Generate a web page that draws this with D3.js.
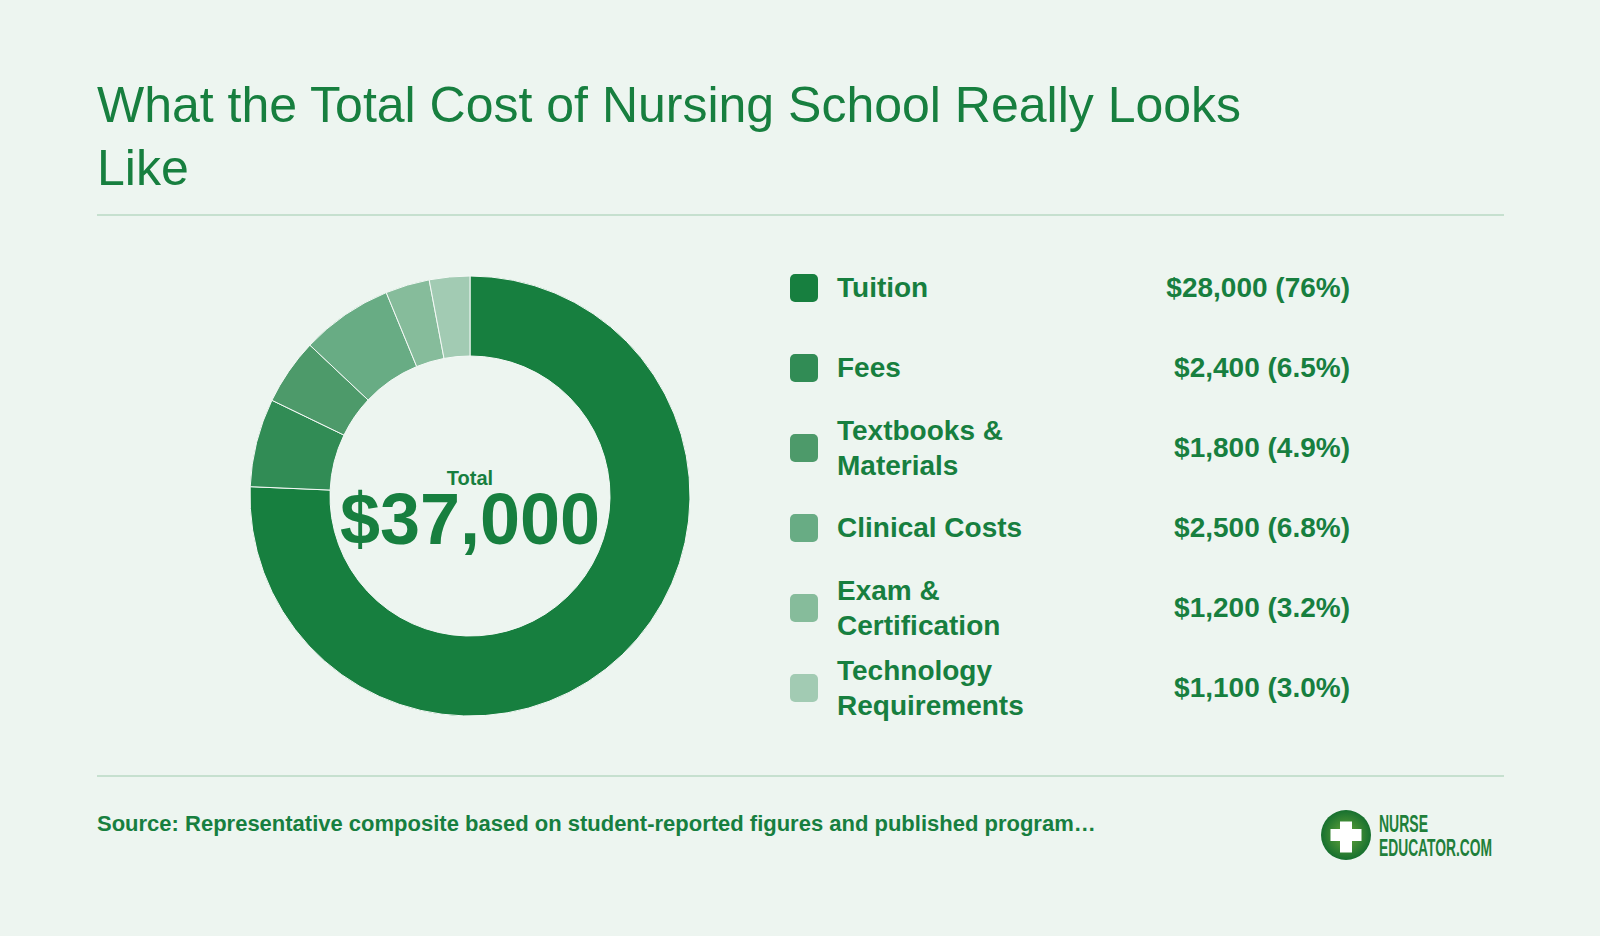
<!DOCTYPE html>
<html lang="en">
  <head>
    <meta charset="utf-8">
    <title>Total Cost of Nursing School</title>
    <script src="https://cdn.jsdelivr.net/npm/d3@7"></script>
    <style>
      html, body { margin: 0; padding: 0; background: #edf5f0; }
      svg { display: block; font-family: "Liberation Sans", Arial, Helvetica, sans-serif; }
    </style>
  </head>

  <body>
    <script>
      // data
      var categories = ['Tuition', 'Fees', 'Textbooks & Materials', 'Clinical Costs', 'Exam & Certification', 'Technology Requirements']
      var values = [28000, 2400, 1800, 2500, 1200, 1100]
      var percentLabels = ['76%', '6.5%', '4.9%', '6.8%', '3.2%', '3.0%']
      var colors = ['#177f3f', '#318c55', '#4d9a6a', '#68ac84', '#86bc9b', '#a2cbb3']
      var titleLines = ['What the Total Cost of Nursing School Really Looks', 'Like']
      var sourceText = 'Source: Representative composite based on student-reported figures and published program\u2026'

      var W = 1600, H = 936
      var green = '#177f3f'
      var svg = d3.select('body').append('svg').attr('width', W).attr('height', H)

      svg.append('rect').attr('width', W).attr('height', H).attr('fill', '#edf5f0')

      // title
      svg.append('g').selectAll('text').data(titleLines).enter().append('text')
        .attr('x', 97)
        .attr('y', function(d, i) { return 122 + i * 63 })
        .attr('font-size', 50)
        .attr('fill', green)
        .text(function(d) { return d })

      // dividers
      svg.selectAll('line.div').data([215, 776]).enter().append('line')
        .attr('class', 'div')
        .attr('x1', 97).attr('x2', 1504)
        .attr('y1', function(d) { return d }).attr('y2', function(d) { return d })
        .attr('stroke', '#c6e0cf').attr('stroke-width', 2)

      // donut
      var total = d3.sum(values)
      var pie = d3.pie().sort(null).value(function(d) { return d })
      var arc = d3.arc().innerRadius(140).outerRadius(220)
      var color = d3.scaleOrdinal().domain(categories).range(colors)

      var donut = svg.append('g').attr('transform', 'translate(470,496)')
      donut.selectAll('path').data(pie(values)).enter().append('path')
        .attr('d', arc)
        .attr('fill', function(d, i) { return color(categories[i]) })
        .attr('stroke', '#f4f9f6')
        .attr('stroke-width', 1)

      donut.append('text')
        .attr('text-anchor', 'middle').attr('y', -11)
        .attr('font-size', 20).attr('font-weight', 700).attr('fill', green)
        .text('Total')
      donut.append('text')
        .attr('text-anchor', 'middle').attr('y', 48)
        .attr('font-size', 72).attr('font-weight', 700).attr('fill', green)
        .text('$' + d3.format(',')(total))

      // legend
      var rowY = d3.scalePoint().domain(categories).range([288, 688])
      var legend = svg.append('g')
      var rows = legend.selectAll('g').data(categories).enter().append('g')
        .attr('transform', function(d) { return 'translate(0,' + rowY(d) + ')' })

      rows.append('rect')
        .attr('x', 790).attr('y', -14).attr('width', 28).attr('height', 28).attr('rx', 5)
        .attr('fill', function(d) { return color(d) })

      var labels = rows.append('text')
        .attr('x', 837)
        .attr('font-size', 28).attr('font-weight', 700).attr('fill', green)

      // wrap labels that are too wide
      labels.each(function(d) {
        var t = d3.select(this)
        var words = d.split(' '), lines = [], line = []
        words.forEach(function(w) {
          line.push(w)
          t.text(line.join(' '))
          if (this.getComputedTextLength() > 230 && line.length > 1) {
            line.pop()
            lines.push(line.join(' '))
            line = [w]
          }
        }, this)
        lines.push(line.join(' '))
        t.text(null)
        var lh = 35
        var y0 = 9 - (lines.length - 1) * lh / 2
        lines.forEach(function(l, i) {
          t.append('tspan').attr('x', 837).attr('y', y0 + i * lh).text(l)
        })
      })

      rows.append('text')
        .attr('x', 1350).attr('y', 9)
        .attr('text-anchor', 'end')
        .attr('font-size', 28).attr('font-weight', 700).attr('fill', green)
        .text(function(d, i) { return '$' + d3.format(',')(values[i]) + ' (' + percentLabels[i] + ')' })

      // source
      svg.append('text')
        .attr('x', 97).attr('y', 831)
        .attr('font-size', 22).attr('font-weight', 700).attr('fill', green)
        .text(sourceText)

      // logo
      var defs = svg.append('defs')
      var grad = defs.append('radialGradient').attr('id', 'logoGrad')
      grad.append('stop').attr('offset', '0%').attr('stop-color', '#6aa83a')
      grad.append('stop').attr('offset', '100%').attr('stop-color', '#17702f')

      var logo = svg.append('g').attr('transform', 'translate(1346,835)')
      logo.append('circle').attr('r', 25).attr('fill', 'url(#logoGrad)')
      logo.append('rect').attr('x', -15.5).attr('y', -6).attr('width', 31).attr('height', 12).attr('fill', '#fff')
      logo.append('rect').attr('x', -6).attr('y', -13.5).attr('width', 12).attr('height', 31).attr('fill', '#fff')

      svg.append('text')
        .attr('x', 1379).attr('y', 832)
        .attr('font-size', 23).attr('font-weight', 700).attr('fill', '#1f7f3a')
        .attr('textLength', 49).attr('lengthAdjust', 'spacingAndGlyphs')
        .text('NURSE')
      svg.append('text')
        .attr('x', 1379).attr('y', 856)
        .attr('font-size', 23).attr('font-weight', 700).attr('fill', '#1f7f3a')
        .attr('textLength', 113).attr('lengthAdjust', 'spacingAndGlyphs')
        .text('EDUCATOR.COM')
    </script>
  </body>
</html>
